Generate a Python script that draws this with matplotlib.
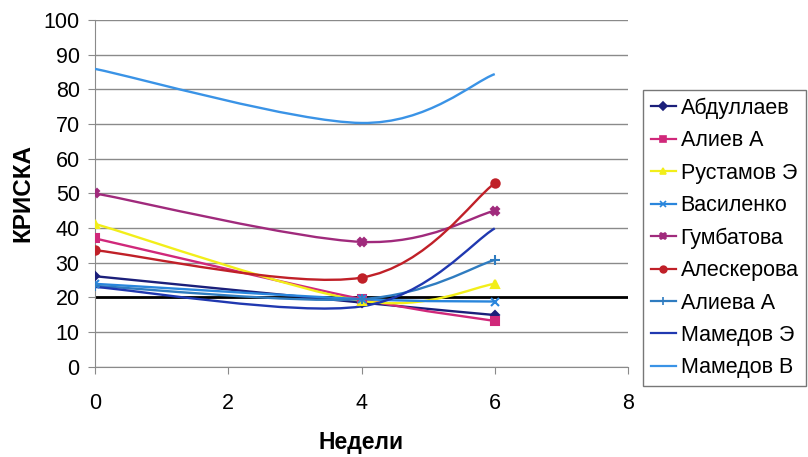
import numpy as np
import matplotlib
matplotlib.use("Agg")
import matplotlib.pyplot as plt
from matplotlib.path import Path
from matplotlib.patches import PathPatch
from matplotlib.lines import Line2D

plt.rcParams['font.family'] = ['Liberation Sans', 'DejaVu Sans']

weeks = [0, 4, 6]
names = ["Абдуллаев", "Алиев А", "Рустамов Э", "Василенко", "Гумбатова",
         "Алескерова", "Алиева А", "Мамедов Э", "Мамедов В"]
abdullaev = [26.1, 18.5, 14.9]
aliev_a = [37.0, 19.5, 13.2]
rustamov_e = [41.2, 19.0, 23.9]
vasilenko = [23.9, 19.5, 18.8]
gumbatova = [50.0, 36.0, 45.0]
aleskerova = [33.6, 25.7, 52.9]
alieva_a = [23.3, 19.5, 30.8]
mamedov_e = [23.0, 17.4, 39.9]
mamedov_v = [85.9, 70.3, 84.4]
norm_level = 20

series = [abdullaev, aliev_a, rustamov_e, vasilenko, gumbatova,
          aleskerova, alieva_a, mamedov_e, mamedov_v]
colors = ["#1b1f7a", "#d0287a", "#f2ee1a", "#2a86dc", "#a02a7c",
          "#c02028", "#2f7cc0", "#2038b0", "#3a93e6"]
markers = ["D", "s", "^", "x", "X", "o", "+", None, None]
msizes = [4.5, 5.5, 6, 6, 6, 6, 7, 0, 0]


def smooth_path(xs, ys):
    # Excel-style smoothed line: cubic Bezier segments through the points
    pts = np.column_stack([xs, ys]).astype(float)
    n = len(pts)
    verts = [pts[0]]
    codes = [Path.MOVETO]
    for i in range(n - 1):
        p0 = pts[i - 1] if i > 0 else pts[i]
        p1, p2 = pts[i], pts[i + 1]
        p3 = pts[i + 2] if i + 2 < n else pts[i + 1]
        verts += [p1 + (p2 - p0) / 6, p2 - (p3 - p1) / 6, p2]
        codes += [Path.CURVE4] * 3
    return Path(verts, codes)


fig = plt.figure(figsize=(8.08, 4.57), dpi=100)
ax = fig.add_axes([95 / 808, 1 - 366.7 / 457, 533 / 808, 346.7 / 457])

ax.set_xlim(0, 8)
ax.set_ylim(0, 100)
ax.set_xticks([0, 2, 4, 6, 8])
ax.set_yticks(range(0, 101, 10))
ax.yaxis.grid(True, color="#8a8a8a", linewidth=1.0)
ax.set_axisbelow(True)
for s in ["top", "right"]:
    ax.spines[s].set_visible(False)
for s in ["left", "bottom"]:
    ax.spines[s].set_color("#8a8a8a")
ax.tick_params(axis="both", colors="#8a8a8a", labelcolor="black",
               labelsize=15.5, length=5)
ax.tick_params(axis="x", pad=14)
ax.tick_params(axis="y", pad=6)

ax.axhline(norm_level, color="black", linewidth=2, zorder=2)

handles = []
for name, vals, c, m, ms in zip(names, series, colors, markers, msizes):
    ax.add_patch(PathPatch(smooth_path(weeks, vals), facecolor="none",
                           edgecolor=c, linewidth=1.7, zorder=3))
    if m:
        ax.plot(weeks, vals, linestyle="none", marker=m, color=c,
                markersize=ms, markeredgewidth=1.5, zorder=4)
    handles.append(Line2D([], [], color=c, linewidth=1.6, marker=m,
                          markersize=ms * 0.8, markeredgewidth=1.2))

ax.set_ylabel("КРИСКА", fontsize=17.5, fontweight="bold")
ax.yaxis.set_label_coords(-0.114, 0.5)
ax.set_xlabel("Недели", fontsize=16.5, fontweight="bold")
ax.xaxis.set_label_coords(0.5, -0.185)

leg = fig.legend(handles, names, loc="upper left",
                 bbox_to_anchor=(643 / 808, 1 - 90 / 457),
                 fontsize=15.5, frameon=True, fancybox=False,
                 edgecolor="#555555", handlelength=1.2, handletextpad=0.2,
                 labelspacing=0.53, borderpad=0.35, borderaxespad=0)
leg.get_frame().set_linewidth(1.0)

fig.savefig("out.png", dpi=100)
